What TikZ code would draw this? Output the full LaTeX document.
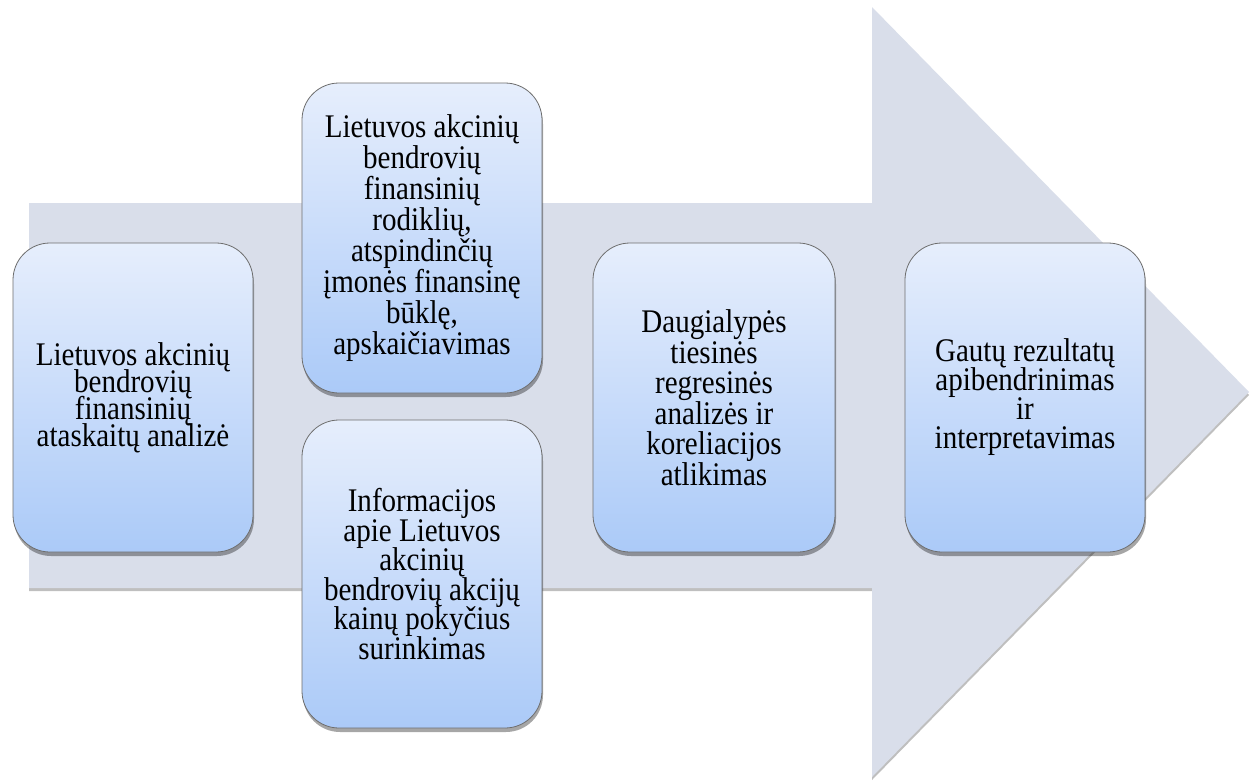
\documentclass[tikz,border=0pt]{standalone}
\usepackage{fontspec}
\setmainfont{Liberation Serif}[FakeStretch=0.88]
\usetikzlibrary{shadows}
\definecolor{arrowfill}{HTML}{D9DEEA}
\definecolor{boxtop}{HTML}{E6EEFC}
\definecolor{boxbot}{HTML}{ABCAF8}
\definecolor{boxline}{HTML}{6E6E6E}
\tikzset{
  stepbox/.style={draw=boxline, line width=0.8pt, rounded corners=37pt,
    top color=boxtop, bottom color=boxbot,
    minimum width=240pt, minimum height=309pt, inner sep=4pt,
    align=center, font={\fontsize{33}{#1}\selectfont\lineskiplimit=-60pt\lineskip=0pt},
    drop shadow={shadow xshift=1pt, shadow yshift=-4pt, opacity=0.35, fill=black}},
  stepbox/.default=30,
  bigarrow/.style={fill=arrowfill, draw=none,
    drop shadow={shadow xshift=0pt, shadow yshift=-3pt, opacity=0.25, fill=black}}
}
\begin{document}
\begin{tikzpicture}[x=1pt,y=-1pt]
\useasboundingbox (0,0) rectangle (1251,780);
\fill[white] (0,0) rectangle (1251,780);
\path[bigarrow] (29,203) -- (872,203) -- (872,7) -- (1249,392) -- (872,777) -- (872,588) -- (29,588) -- cycle;
\node[stepbox=27] (b1) at (133,397.5) {Lietuvos akcinių\\bendrovių\\finansinių\\ataskaitų analizė};
\node[stepbox=31, minimum height=310pt] (b2) at (422,238) {Lietuvos akcinių\\bendrovių\\finansinių\\rodiklių,\\atspindinčių\\įmonės finansinę\\būklę,\\apskaičiavimas};
\node[stepbox=29.5, minimum height=308pt] (b3) at (422,574) {Informacijos\\apie Lietuvos\\akcinių\\bendrovių akcijų\\kainų pokyčius\\surinkimas};
\node[stepbox=30.5, minimum width=242pt] (b4) at (714,397.5) {Daugialypės\\tiesinės\\regresinės\\analizės ir\\koreliacijos\\atlikimas};
\node[stepbox=29] (b5) at (1025,397.5) {Gautų rezultatų\\apibendrinimas\\ir\\interpretavimas};
\end{tikzpicture}
\end{document}
